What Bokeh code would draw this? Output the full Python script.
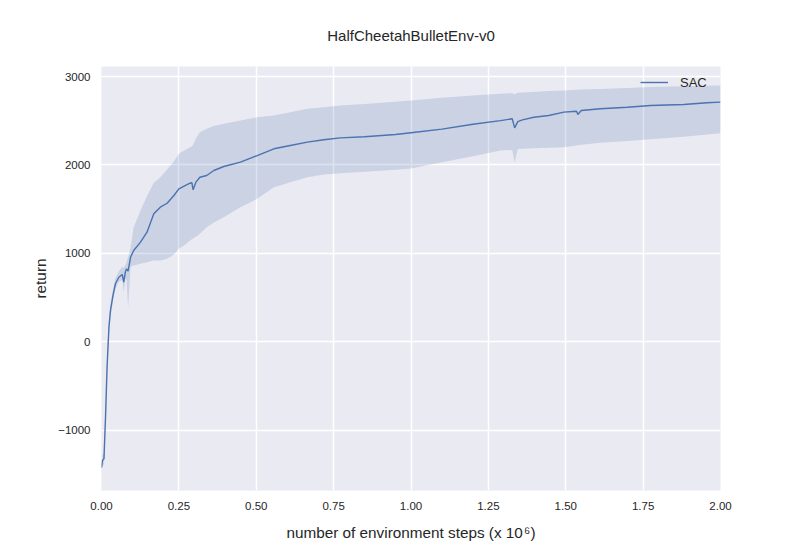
from bokeh.plotting import figure
from bokeh.models import Range1d, FixedTicker, NumeralTickFormatter, ColumnDataSource, Legend, LegendItem
from bokeh.embed import file_html
from bokeh.resources import INLINE

# ---- data (environment steps in millions) ----
steps = [0.000, 0.003, 0.008, 0.013, 0.018, 0.024, 0.029, 0.037, 0.045, 0.056,
         0.067, 0.072, 0.077, 0.081, 0.086, 0.094, 0.104, 0.126, 0.147, 0.169,
         0.190, 0.212, 0.234, 0.250, 0.270, 0.286, 0.292, 0.296, 0.305, 0.318,
         0.340, 0.363, 0.395, 0.449, 0.503, 0.557, 0.610, 0.665, 0.718, 0.772,
         0.850, 0.950, 1.000, 1.100, 1.200, 1.289, 1.327, 1.335, 1.345, 1.360,
         1.397, 1.445, 1.494, 1.535, 1.539, 1.550, 1.612, 1.699, 1.774, 1.881,
         1.957, 2.000]
mean_return = [-1420, -1340, -1320, -850, -285, 167, 356, 525, 658, 732,
               763, 676, 790, 827, 800, 958, 1034, 1128, 1241, 1449,
               1523, 1568, 1655, 1731, 1768, 1794, 1800, 1720, 1806, 1862,
               1881, 1938, 1983, 2032, 2107, 2183, 2220, 2258, 2285, 2307,
               2320, 2345, 2365, 2405, 2460, 2502, 2522, 2420, 2490, 2510,
               2540, 2559, 2597, 2608, 2571, 2616, 2635, 2653, 2672, 2684,
               2703, 2710]
lower_return = [-1470, -1400, -1380, -950, -400, 60, 270, 460, 600, 680,
                700, 560, 720, 700, 390, 850, 864, 883, 900, 921,
                921, 940, 990, 1053, 1100, 1147, 1160, 1170, 1190, 1223,
                1297, 1350, 1410, 1523, 1618, 1749, 1806, 1862, 1893, 1907,
                1925, 1945, 1960, 2030, 2100, 2164, 2170, 2032, 2180, 2185,
                2190, 2195, 2201, 2220, 2225, 2230, 2250, 2270, 2290, 2320,
                2345, 2359]
upper_return = [-1360, -1280, -1250, -720, -150, 260, 430, 590, 720, 800,
                850, 840, 870, 900, 960, 1071, 1297, 1486, 1650, 1800,
                1862, 1950, 2040, 2127, 2170, 2201, 2210, 2230, 2300, 2371,
                2409, 2440, 2466, 2503, 2540, 2559, 2597, 2635, 2653, 2672,
                2690, 2715, 2730, 2760, 2785, 2805, 2812, 2800, 2815, 2818,
                2825, 2835, 2842, 2850, 2850, 2852, 2860, 2870, 2880, 2890,
                2896, 2898]

x_ticks = [0.0, 0.25, 0.5, 0.75, 1.0, 1.25, 1.5, 1.75, 2.0]
y_ticks = [-1000, 0, 1000, 2000, 3000]
y_tick_labels = {-1000: "\u22121000", 0: "0", 1000: "1000", 2000: "2000", 3000: "3000"}

title_text = "HalfCheetahBulletEnv-v0"
x_label = "number of environment steps (x 10\u200a\u2076)"
y_label = "return"
series_name = "SAC"

FONT = "Liberation Sans"
TEXT = "#262626"
BLUE = "#4C72B0"

src = ColumnDataSource(dict(x=steps, y=mean_return, lo=lower_return, hi=upper_return))

p = figure(width=784, height=546, output_backend="svg", toolbar_location=None,
           x_range=Range1d(0, 2), y_range=Range1d(-1678, 3113),
           min_border_left=101, min_border_right=64, min_border_top=66, min_border_bottom=56)

p.background_fill_color = "#EAEAF2"
p.border_fill_color = "white"
p.outline_line_color = None

p.title.text = title_text
p.title.align = "center"
p.title.text_font = FONT
p.title.text_font_size = "15px"
p.title.text_font_style = "normal"
p.title.text_color = TEXT
p.title.standoff = 46

for ax in (p.xaxis[0], p.yaxis[0]):
    ax.axis_line_color = None
    ax.major_tick_line_color = None
    ax.minor_tick_line_color = None
    ax.major_tick_out = 0
    ax.major_tick_in = 0
    ax.major_label_text_font = FONT
    ax.major_label_text_font_size = "11.5px"
    ax.major_label_text_color = TEXT
    ax.axis_label_text_font = FONT
    ax.axis_label_text_font_size = "15.3px"
    ax.axis_label_text_font_style = "normal"
    ax.axis_label_text_color = TEXT

p.xaxis.ticker = FixedTicker(ticks=x_ticks)
p.xaxis.formatter = NumeralTickFormatter(format="0.00")
p.xaxis.major_label_standoff = 11
p.xaxis.axis_label = x_label
p.xaxis.axis_label_standoff = 11
p.yaxis.ticker = FixedTicker(ticks=y_ticks)
p.yaxis.major_label_overrides = y_tick_labels
p.yaxis.major_label_standoff = 11
p.yaxis.axis_label = y_label
p.yaxis.axis_label_standoff = 6

p.xgrid.ticker = FixedTicker(ticks=x_ticks)
p.ygrid.ticker = FixedTicker(ticks=y_ticks)
for g in (p.xgrid[0], p.ygrid[0]):
    g.grid_line_color = "white"
    g.grid_line_width = 1.5

band = p.varea(x="x", y1="lo", y2="hi", source=src, fill_color=BLUE, fill_alpha=0.2)
line = p.line(x="x", y="y", source=src, line_color=BLUE, line_width=1.4)

legend = Legend(items=[LegendItem(label=series_name, renderers=[line])],
                location="top_right")
legend.background_fill_alpha = 0
legend.border_line_color = None
legend.label_text_font = FONT
legend.label_text_font_size = "13px"
legend.label_text_color = TEXT
legend.glyph_width = 28
legend.label_standoff = 12
legend.label_width = 34
legend.margin = 6
legend.padding = 6
p.add_layout(legend)

open("out.html", "w").write(file_html(p, INLINE))
